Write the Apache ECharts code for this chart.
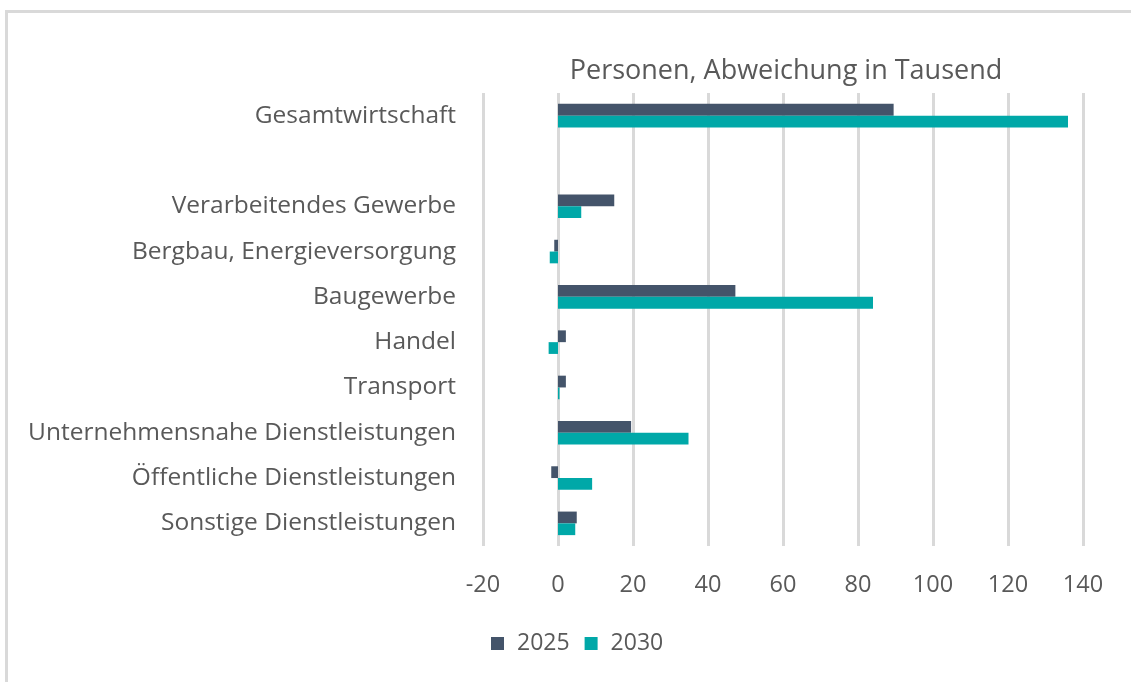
<!DOCTYPE html>
<html>
<head>
<meta charset="utf-8">
<script src="https://cdn.jsdelivr.net/npm/echarts@6/dist/echarts.min.js"></script>
<style>
  html, body { margin: 0; padding: 0; background: #fff; }
  #frame {
    position: absolute; left: 5px; top: 10px; width: 1200px; height: 700px;
    border-top: 3px solid #d9d9d9; border-left: 3px solid #d9d9d9;
  }
  #chart { position: absolute; left: 0; top: 0; width: 1131px; height: 682px; }
</style>
</head>
<body>
<div id="frame"></div>
<div id="chart"></div>
<script>
// Kategorien (leere Zeile als Abstand nach Gesamtwirtschaft)
const categories = [
  'Gesamtwirtschaft',
  '',
  'Verarbeitendes Gewerbe',
  'Bergbau, Energieversorgung',
  'Baugewerbe',
  'Handel',
  'Transport',
  'Unternehmensnahe Dienstleistungen',
  'Öffentliche Dienstleistungen',
  'Sonstige Dienstleistungen',
]
const values2025 = [89.5, null, 15, -1, 47.3, 2.1, 2.1, 19.5, -1.8, 5]
const values2030 = [136, null, 6.2, -2.2, 84, -2.5, 0.4, 34.8, 9.1, 4.6]
const seriesNames = ['2025', '2030']

const textColor = '#595959'
const fontFamily = '"Open Sans", sans-serif'

const myChart = echarts.init(document.getElementById('chart'), null, { renderer: 'canvas' })

const option = {
  animation: false,
  textStyle: { fontFamily },
  title: {
    text: 'Personen, Abweichung in Tausend',
    left: 781,
    top: 53,
    textAlign: 'center',
    textStyle: { color: textColor, fontWeight: 'normal', fontSize: 27, fontFamily },
  },
  legend: {
    data: seriesNames,
    left: 486,
    top: 627,
    itemWidth: 13,
    itemHeight: 13,
    itemGap: 15,
    icon: 'rect',
    textStyle: { color: textColor, fontSize: 23, fontFamily, padding: [0, 0, 0, 8] },
  },
  grid: {
    left: 483,
    right: 48,
    top: 93,
    bottom: 136,
    containLabel: false,
  },
  xAxis: {
    type: 'value',
    min: -20,
    max: 140,
    interval: 20,
    axisLine: { show: false },
    axisTick: { show: false },
    axisLabel: { color: textColor, fontSize: 23.5, margin: 27, fontFamily },
    splitLine: { lineStyle: { color: '#d9d9d9', width: 3 } },
  },
  yAxis: {
    type: 'category',
    data: categories,
    inverse: true,
    axisLine: { show: false },
    axisTick: { show: false },
    axisLabel: { color: textColor, fontSize: 24.5, margin: 27, fontFamily },
  },
  series: [
    {
      name: seriesNames[0],
      type: 'bar',
      data: values2025,
      barGap: '0%',
      barCategoryGap: '48%',
      itemStyle: { color: '#44546a' },
    },
    {
      name: seriesNames[1],
      type: 'bar',
      data: values2030,
      barGap: '0%',
      barCategoryGap: '48%',
      itemStyle: { color: '#00a8a8' },
    },
  ],
}

myChart.setOption(option)
</script>
</body>
</html>
